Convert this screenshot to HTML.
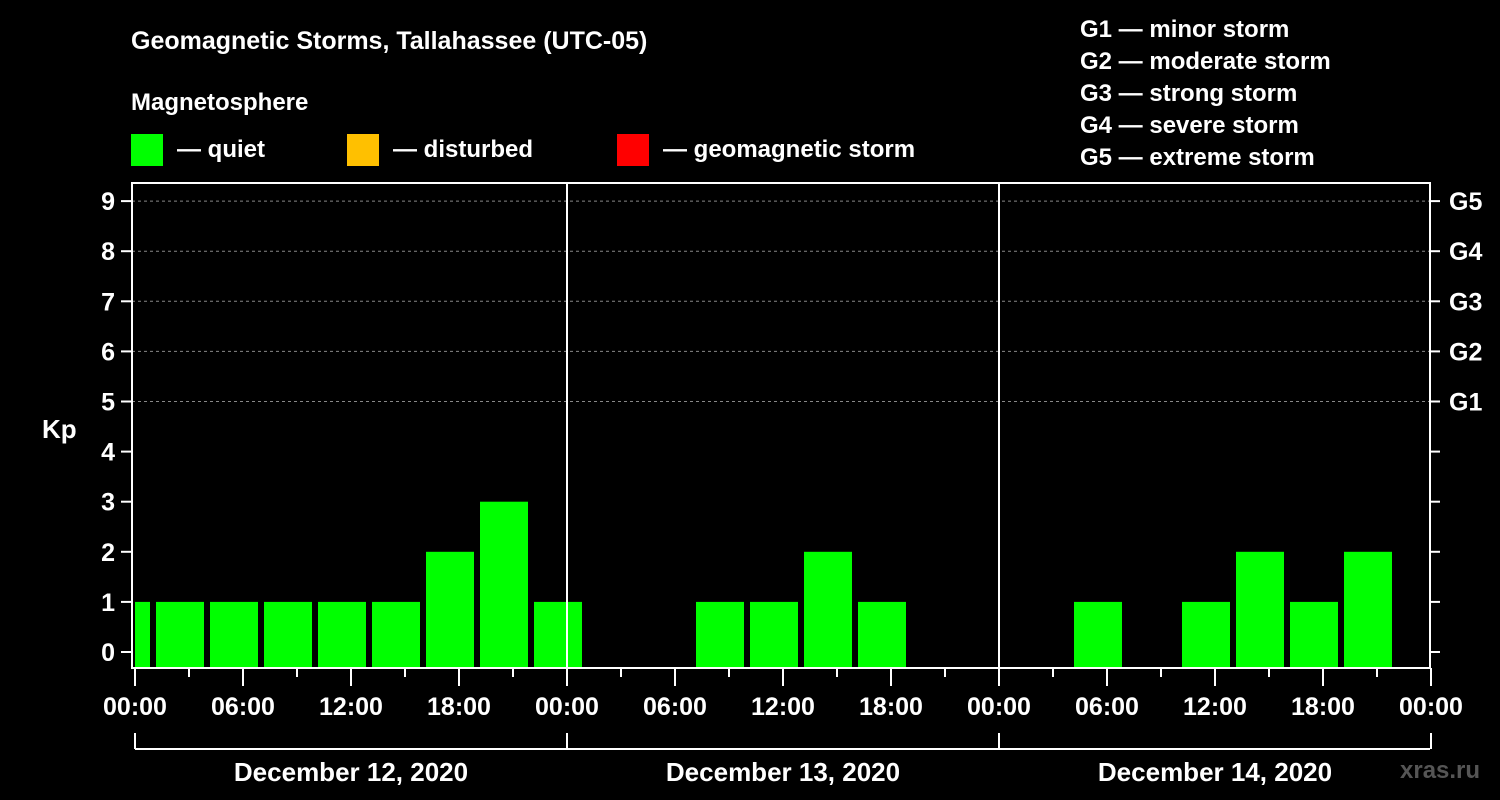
<!DOCTYPE html>
<html><head><meta charset="utf-8"><style>
body{margin:0;background:#000;width:1500px;height:800px;overflow:hidden}
svg{display:block;font-family:"Liberation Sans",sans-serif;font-weight:bold}
</style></head><body>
<svg id="chart" width="1500" height="800">
<rect width="1500" height="800" fill="#000"/>
<text x="131" y="49" fill="#fff" font-size="25">Geomagnetic Storms, Tallahassee (UTC-05)</text>
<text x="131" y="110" fill="#fff" font-size="24">Magnetosphere</text>
<g><rect x="131" y="134" width="32" height="32" fill="#00ff00"/><text x="177" y="157" fill="#fff" font-size="24">— quiet</text></g>
<g><rect x="347" y="134" width="32" height="32" fill="#ffc000"/><text x="393" y="157" fill="#fff" font-size="24">— disturbed</text></g>
<g><rect x="617" y="134" width="32" height="32" fill="#ff0000"/><text x="663" y="157" fill="#fff" font-size="24">— geomagnetic storm</text></g>
<g fill="#fff" font-size="24">
<text x="1080" y="37">G1 — minor storm</text><text x="1080" y="69">G2 — moderate storm</text><text x="1080" y="101">G3 — strong storm</text><text x="1080" y="133">G4 — severe storm</text><text x="1080" y="165">G5 — extreme storm</text>
</g>
<text x="42" y="438" fill="#fff" font-size="26">Kp</text>
<text x="1400" y="778" fill="#555" font-size="24">xras.ru</text>
<g id="g"></g>
</svg>
<script>
const kpValues=[1,1,1,1,1,1,2,3,1, null,null,1,1,2,1,null,null, null,1,null,1,2,1,2,null];
const slotStartHours=[-2,1,4,7,10,13,16,19,22,25,28,31,34,37,40,43,46,49,52,55,58,61,64,67,70];
const yTicks=[0,1,2,3,4,5,6,7,8,9];
const gLabels=["G1","G2","G3","G4","G5"];
const xTickLabels=["00:00","06:00","12:00","18:00","00:00","06:00","12:00","18:00","00:00","06:00","12:00","18:00","00:00"];
const dayLabels=["December 12, 2020","December 13, 2020","December 14, 2020"];
const X0=135,PXH=18,Y0=652,PXK=50.1,TOP=183,BOT=668,LEFT=132,RIGHT=1430;
const xs=h=>X0+h*PXH, ys=v=>Y0-v*PXK;
const g=document.getElementById('g'),NS="http://www.w3.org/2000/svg";
function mk(t,a,txt){const e=document.createElementNS(NS,t);for(const k in a)e.setAttribute(k,a[k]);if(txt!=null)e.textContent=txt;g.appendChild(e);return e;}
yTicks.forEach(v=>{
 if(v>=5){const l=mk('line',{x1:LEFT,x2:RIGHT,y1:ys(v),y2:ys(v),stroke:'#888','stroke-dasharray':'3,3','stroke-width':1});
 
 }
 const t=mk('line',{x1:LEFT-11,x2:LEFT,y1:ys(v),y2:ys(v),stroke:'#fff','stroke-width':2});
 
 
 const r=mk('line',{x1:RIGHT,x2:RIGHT+10,y1:ys(v),y2:ys(v),stroke:'#fff','stroke-width':2});
 
 
 const lb=mk('text',{x:LEFT-17,y:ys(v)+9,fill:'#fff','font-size':25,'text-anchor':'end'},String(v));
 
 
});
gLabels.forEach((s,i)=>{const t=mk('text',{x:RIGHT+19,y:ys(5+i)+9,fill:'#fff','font-size':25},s);
 
 });
kpValues.forEach((v,i)=>{
 if(v==null)return;
 let x1=xs(slotStartHours[i])+3,x2=xs(slotStartHours[i]+3)-3;
 x1=Math.max(x1,X0);x2=Math.min(x2,RIGHT);
 const c=v<4?'#00ff00':(v<5?'#ffc000':'#ff0000');
 const b=mk('rect',{x:x1,y:ys(v),width:x2-x1,height:BOT-ys(v),fill:c});
 
 
});
const fr=mk('rect',{x:LEFT,y:TOP,width:RIGHT-LEFT,height:BOT-TOP,fill:'none',stroke:'#fff','stroke-width':2});


[1,2].forEach(d=>{const l=mk('line',{x1:xs(24*d),x2:xs(24*d),y1:TOP,y2:BOT,stroke:'#fff','stroke-width':2});
 
 });
for(let h=0;h<=72;h+=3){const l=mk('line',{x1:xs(h),x2:xs(h),y1:BOT,y2:BOT+(h%6==0?18:9),stroke:'#fff','stroke-width':2});
 
 }
xTickLabels.forEach((s,i)=>{const t=mk('text',{x:xs(i*6),y:715,fill:'#fff','font-size':25,'text-anchor':'middle'},s);
 
 });
const br=mk('line',{x1:X0,x2:RIGHT,y1:749,y2:749,stroke:'#fff','stroke-width':2});


for(let d=0;d<=3;d++){const l=mk('line',{x1:xs(24*d),x2:xs(24*d),y1:733,y2:749,stroke:'#fff','stroke-width':2});
 
 }
dayLabels.forEach((s,i)=>{const t=mk('text',{x:xs(24*i+12),y:781,fill:'#fff','font-size':26,'text-anchor':'middle'},s);
 
 });
</script>
</body></html>
